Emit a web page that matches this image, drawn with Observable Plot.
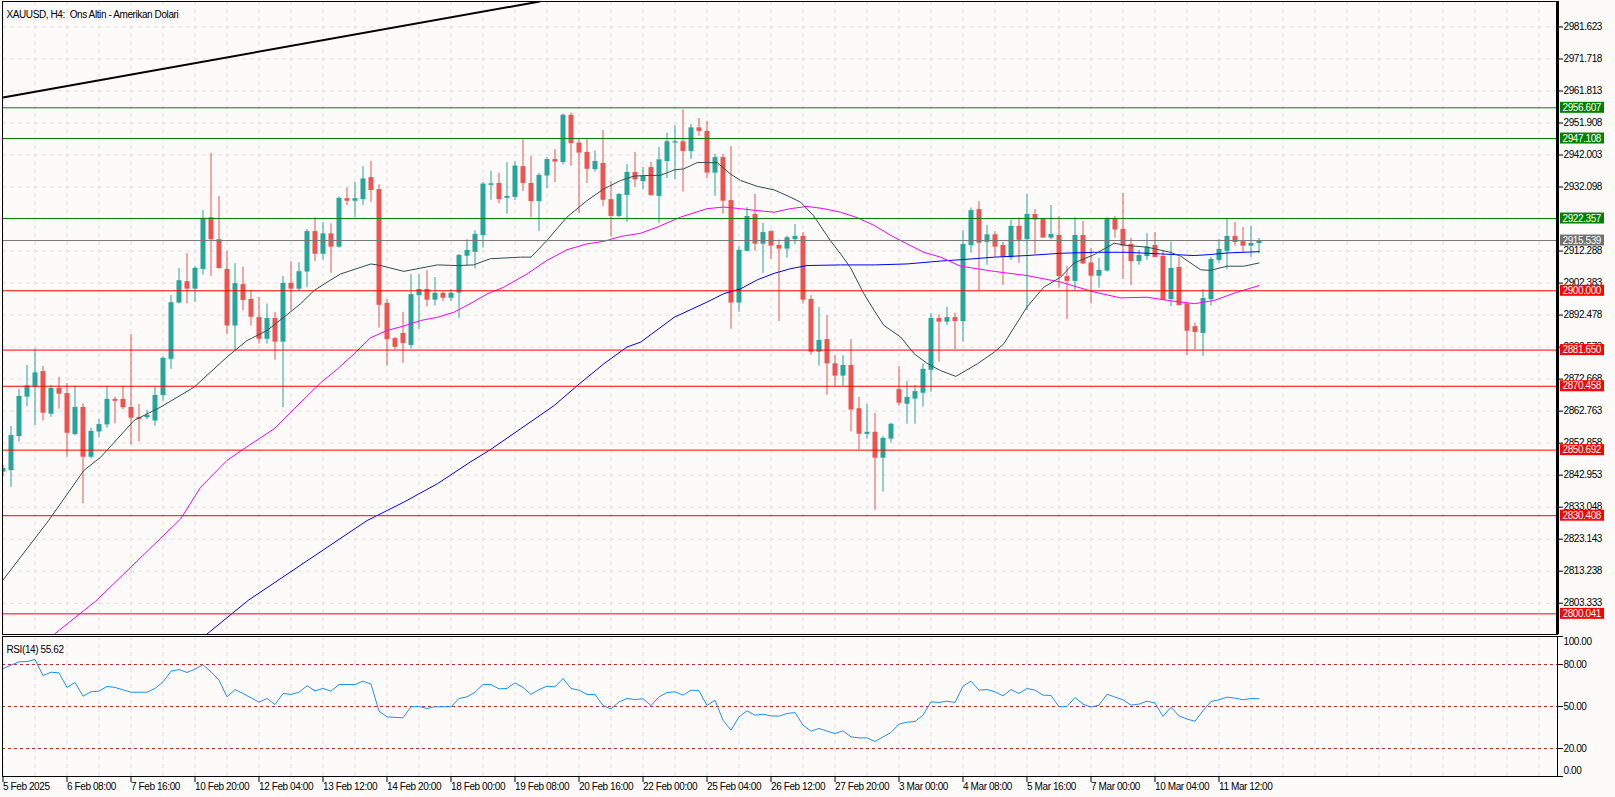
<!DOCTYPE html>
<html><head><meta charset="utf-8">
<script src="https://cdn.jsdelivr.net/npm/d3@7"></script>
<script src="https://cdn.jsdelivr.net/npm/@observablehq/plot@0.6"></script>
<style>
html,body{margin:0;padding:0;background:#fdfafa;}
#chart{position:relative;width:1615px;height:797px;background:#fdfafa;overflow:hidden;}
#chart svg{display:block;}
</style></head><body><div id="chart"></div>
<script>
// ---------- DATA ----------
const chartTitle = "XAUUSD, H4:  Ons Altin - Amerikan Dolari";
const rsiTitle = "RSI(14) 55.62";

const open = [2843.9,2844.4,2854.9,2867.1,2870.2,2875.0,2861.8,2869.8,2868.2,2855.5,2863.9,2848.5,2856.3,2858.5,2866.4,2866.4,2863.9,2860.8,2860.7,2859.7,
2867.6,2878.8,2896.2,2902.8,2900.5,2906.6,2922.6,2915.8,2906.6,2889.1,2901.9,2897.3,2891.7,2885.0,2891.4,2884.1,2902.3,2900.5,2905.8,2918.3,
2911.3,2917.6,2913.5,2928.5,2927.7,2928.2,2935.0,2931.3,2896.1,2885.2,2886.8,2883.1,2898.5,2900.4,2897.1,2899.2,2897.7,2899.3,2910.7,2911.9,
2917.1,2932.6,2933.2,2928.6,2928.9,2938.4,2933.2,2927.6,2935.5,2940.6,2939.7,2954.3,2945.7,2942.8,2937.5,2939.4,2928.2,2923.0,2929.5,2936.6,
2933.8,2938.1,2929.2,2940.0,2945.7,2946.1,2943.1,2950.4,2949.3,2936.4,2941.2,2927.9,2896.2,2912.2,2923.6,2914.4,2918.3,2914.0,2912.9,2915.8,
2916.8,2897.3,2881.0,2884.9,2877.4,2873.6,2876.9,2863.5,2855.6,2856.2,2848.2,2854.1,2869.4,2864.9,2866.5,2868.3,2875.4,2891.4,2890.3,2891.7,
2890.5,2914.0,2925.1,2915.0,2917.3,2914.0,2910.2,2919.9,2915.8,2923.6,2922.1,2916.3,2917.1,2904.4,2902.9,2917.1,2908.6,2904.5,2906.1,2922.1,
2919.0,2914.3,2909.0,2910.6,2914.0,2910.6,2897.3,2907.2,2895.9,2888.9,2886.8,2897.3,2909.4,2912.2,2916.8,2915.2,2913.8,2914.6];
const high = [2846.0,2858.0,2869.4,2876.9,2882.0,2876.6,2870.7,2873.2,2871.3,2870.5,2865.0,2857.5,2860.2,2870.5,2867.1,2870.5,2886.4,2864.8,2863.0,2870.2,
2879.5,2898.5,2906.9,2911.5,2907.5,2924.8,2942.5,2929.2,2912.2,2908.4,2907.3,2900.2,2897.9,2895.9,2893.3,2904.4,2909.0,2908.7,2919.0,2922.6,
2921.1,2920.7,2929.0,2931.8,2933.6,2938.4,2940.0,2932.8,2897.3,2885.6,2893.3,2905.0,2905.0,2906.2,2904.1,2899.8,2900.4,2911.2,2915.8,2918.6,
2933.5,2937.0,2936.4,2939.6,2939.9,2946.9,2941.5,2936.3,2941.2,2943.7,2954.7,2955.0,2946.9,2946.9,2943.2,2949.6,2933.8,2930.1,2939.0,2942.8,
2938.2,2939.8,2944.4,2948.8,2951.1,2956.0,2951.4,2953.3,2952.3,2942.2,2942.2,2944.6,2913.7,2925.7,2929.8,2920.8,2918.6,2915.7,2916.9,2920.5,
2918.0,2898.5,2894.8,2892.3,2879.9,2879.9,2884.9,2867.0,2864.8,2862.1,2854.9,2859.0,2876.5,2871.9,2870.7,2877.4,2892.9,2892.5,2894.9,2893.1,
2918.6,2925.6,2927.6,2920.2,2918.3,2915.0,2921.7,2922.6,2929.8,2925.1,2922.1,2926.4,2923.0,2907.6,2922.6,2921.5,2913.1,2910.0,2922.6,2923.0,
2930.1,2916.3,2912.5,2917.7,2918.0,2912.5,2915.0,2910.3,2896.4,2890.0,2900.4,2910.4,2915.9,2922.1,2921.1,2919.6,2919.9,2916.2];
const low = [2842.5,2839.2,2853.2,2864.2,2858.3,2859.7,2860.9,2863.4,2848.5,2855.2,2834.1,2848.0,2854.5,2857.5,2858.8,2863.2,2852.3,2853.2,2860.1,2858.1,
2865.8,2875.7,2895.9,2895.9,2896.4,2904.8,2904.5,2906.6,2886.4,2881.6,2893.8,2889.1,2883.5,2883.5,2878.5,2863.8,2893.7,2899.8,2901.0,2909.0,
2909.5,2905.4,2913.2,2926.4,2922.6,2926.4,2927.4,2888.4,2876.7,2881.7,2877.5,2882.0,2888.0,2895.0,2895.3,2896.7,2896.7,2891.5,2907.6,2906.7,
2913.2,2928.0,2926.9,2923.7,2927.9,2930.7,2922.6,2918.4,2931.6,2933.5,2938.9,2938.5,2923.9,2933.2,2936.7,2926.1,2916.6,2922.6,2921.2,2932.0,
2931.2,2929.2,2920.9,2934.7,2934.4,2930.5,2940.6,2947.8,2934.8,2929.2,2923.7,2888.1,2893.3,2912.2,2912.3,2905.4,2909.7,2890.5,2910.1,2914.3,
2895.9,2880.1,2876.7,2867.7,2870.5,2870.5,2856.3,2850.8,2854.1,2832.1,2837.7,2852.9,2864.3,2858.7,2858.7,2864.0,2868.6,2877.9,2889.3,2881.8,
2884.1,2911.6,2900.0,2907.9,2910.4,2901.7,2909.4,2908.5,2893.9,2911.2,2916.3,2915.8,2900.8,2891.1,2900.1,2908.1,2895.9,2900.8,2905.8,2916.3,
2903.5,2901.6,2907.9,2909.4,2910.3,2897.0,2895.1,2895.4,2880.0,2881.7,2879.7,2895.3,2908.4,2906.6,2913.8,2911.8,2910.3,2911.5];
const close = [2845.0,2855.2,2867.3,2870.6,2874.6,2862.1,2869.8,2868.0,2855.9,2863.9,2848.5,2856.5,2858.6,2866.4,2865.8,2863.8,2860.6,2860.2,2861.4,2867.6,
2879.1,2896.3,2903.1,2900.5,2906.9,2922.1,2915.8,2906.9,2889.1,2902.2,2897.0,2891.8,2885.0,2891.4,2884.1,2902.3,2900.5,2905.9,2918.3,2911.3,
2917.6,2913.5,2928.6,2927.7,2928.5,2934.6,2931.0,2895.5,2884.9,2882.5,2883.7,2898.8,2900.4,2897.1,2899.2,2897.7,2899.2,2910.9,2912.5,2917.4,
2933.0,2933.1,2928.2,2929.2,2938.6,2933.2,2927.6,2935.7,2940.6,2939.8,2954.3,2945.5,2942.6,2937.6,2940.0,2928.0,2923.0,2929.8,2936.6,2934.3,
2935.5,2929.5,2940.5,2946.1,2946.1,2943.1,2950.4,2949.3,2936.4,2941.2,2927.7,2896.2,2912.5,2923.0,2914.4,2918.0,2913.8,2912.9,2916.4,2916.8,
2897.1,2881.0,2884.6,2877.4,2873.6,2876.9,2863.1,2855.6,2856.2,2848.2,2854.3,2858.7,2865.2,2867.0,2868.8,2875.7,2891.4,2890.3,2891.7,2890.5,
2914.3,2924.8,2914.7,2917.3,2913.5,2910.4,2919.9,2915.6,2923.6,2921.9,2916.3,2917.4,2904.4,2902.9,2917.1,2908.3,2904.5,2906.3,2922.1,2918.8,
2913.8,2909.0,2910.9,2913.5,2910.3,2897.0,2906.9,2895.4,2887.5,2887.1,2897.6,2909.7,2912.8,2916.8,2914.9,2913.8,2914.6,2915.5];

// moving averages: [bar index, price]
const maDark = [[0,2810.5],[5.7,2828.9],[10.1,2844.4],[12.2,2848.5],[16.4,2859.9],[19.7,2864.0],[23.9,2870.2],[28,2879.5],[30.5,2884.6],[33,2887.7],[35.1,2891.8],[37.2,2896.0],[38.9,2900.1],[41,2903.4],[42.2,2905.2],[46,2908.3],[47.2,2907.8],[50.1,2906.0],[52.2,2907.0],[54.3,2908.0],[56.8,2907.8],[58.8,2908.0],[60.9,2909.9],[64.7,2910.4],[66,2910.4],[68,2915.6],[70.5,2922.8],[73,2927.9],[75.1,2931.5],[77.2,2934.1],[78.9,2935.5],[81,2935.7],[82.2,2935.7],[83.9,2937.4],[85.1,2937.7],[86.8,2939.7],[89.3,2939.6],[90.9,2936.2],[92.2,2934.1],[94.3,2932.3],[96.4,2931.2],[98.4,2929.0],[99.7,2927.4],[101.3,2923.3],[103.4,2915.6],[104.7,2911.4],[105.9,2907.3],[107.6,2899.1],[108.9,2893.9],[110.1,2889.3],[112.2,2885.7],[113.9,2880.5],[115.6,2877.4],[117.2,2875.3],[119.1,2873.5],[121.8,2877.4],[123.9,2881.0],[125.1,2883.6],[126.4,2888.7],[128,2895.0],[130.1,2901.1],[132.2,2904.2],[133.9,2908.6],[136.4,2911.2],[138.9,2914.7],[140.5,2914.0],[143,2913.5],[145.9,2911.9],[147.2,2910.7],[149.7,2906.5],[150.9,2906.3],[153,2907.6],[155.1,2907.6],[157,2908.6]];
const maMagenta = [[6.5,2793.9],[11.6,2804.0],[22.2,2829.4],[24.7,2839.2],[28,2847.5],[30.1,2851.1],[33.9,2857.3],[36.4,2863.5],[39.7,2871.5],[41.8,2875.8],[43.9,2880.5],[45.9,2885.4],[48,2887.7],[50.1,2889.1],[52.2,2890.8],[54.3,2891.8],[56.4,2893.4],[58.4,2896.0],[60.5,2899.0],[62.6,2901.1],[65.5,2905.2],[68,2909.4],[70.5,2912.7],[73,2914.5],[75.1,2915.3],[77.2,2916.8],[79.7,2917.8],[81.8,2919.7],[84.7,2922.8],[88,2925.4],[90.1,2925.9],[92.2,2925.4],[94.3,2924.8],[96.4,2924.3],[98.4,2925.4],[100.5,2926.1],[102.6,2925.4],[104.7,2924.3],[106.8,2922.6],[108.9,2920.2],[111,2917.1],[113,2914.5],[115.1,2911.9],[117.2,2910.4],[119.7,2907.6],[123.9,2906.0],[128,2904.7],[132.2,2902.7],[136.4,2899.6],[139.7,2897.8],[143,2898.0],[145.6,2897.0],[148.9,2896.0],[151.4,2897.0],[154.3,2899.6],[157,2901.6]];
const maBlue = [[25.4,2793.6],[30.7,2804.3],[45.5,2828.9],[50.1,2834.6],[54.3,2840.3],[58.4,2847.0],[60.9,2850.8],[64.7,2857.3],[68.9,2864.5],[71.8,2870.7],[75.1,2877.4],[78,2882.6],[79.7,2884.1],[83.9,2891.8],[88,2896.5],[90.1,2899.1],[92.2,2900.6],[94.3,2903.4],[96.4,2905.4],[98.4,2906.8],[100.5,2907.8],[104.7,2908.0],[108.9,2908.0],[113,2908.3],[117.2,2909.2],[119.7,2909.6],[123.9,2910.4],[128,2910.9],[132.2,2911.6],[136.4,2911.9],[140.5,2911.9],[144.7,2911.4],[148.9,2910.9],[150.9,2911.2],[153,2911.7],[157,2912.1]];
const trendLine = [[0,2959.8],[67.1,2989.5]];

const greenLevels = [2956.607, 2947.108, 2922.357];
const bidLevels = [2915.539];
const redLevels = [2900.000, 2881.650, 2870.458, 2850.692, 2830.408, 2800.041];

const gridTicks = [2981.623,2971.718,2961.813,2951.908,2942.003,2932.098,2922.193,2912.288,2902.383,2892.478,2882.573,2872.668,2862.763,2852.858,2842.953,2833.048,2823.143,2813.238,2803.333];
const priceTicks = [2981.623,2971.718,2961.813,2951.908,2942.003,2932.098,2912.288,2902.383,2892.478,2882.573,2872.668,2862.763,2852.858,2842.953,2833.048,2823.143,2813.238,2803.333];

const rsiIdx = [0,2,3,4,5,6,7,8,9,10,11,12,13,14,16,18,19,20,21,22,23,24,25,26,27,28,29,30,32,33,34,35,36,37,38,39,40,41,42,44,45,46,47,48,50,51,52,53,54,56,57,58,59,60,61,62,63,64,65,66,67,68,69,70,71,72,73,74,75,76,77,78,79,80,81,82,83,84,85,86,87,88,89,90,91,92,93,94,95,96,97,98,99,100,101,102,103,104,105,106,107,108,109,110,111,112,113,114,115,116,117,118,119,120,121,122,123,124,125,126,127,128,129,130,131,132,133,134,135,136,137,138,139,140,141,142,143,144,145,146,147,148,149,150,151,152,153,154,155,156,157];
const rsiVal = [77.1,81.9,82.1,83.6,72.1,74.5,74.0,63.6,67.1,57.4,60.5,61.0,64.3,63.6,60.2,60.2,62.9,67.6,75.2,76.4,74.3,76.7,79.8,74.8,68.8,56.9,62.1,59.3,53.1,55.7,51.4,59.3,58.6,60.2,64.8,61.2,62.9,61.0,65.7,65.7,68.1,66.0,46.7,42.6,41.9,49.8,50.0,48.6,49.8,49.8,55.7,56.9,60.2,65.7,65.7,62.6,62.9,66.9,63.6,58.6,62.1,64.5,64.0,70.0,62.9,61.7,58.6,58.6,50.7,48.3,53.3,55.7,55.0,55.5,50.7,56.9,60.0,60.5,58.1,61.7,61.2,50.7,54.5,40.2,33.1,42.6,46.9,43.8,44.5,43.3,43.1,45.0,45.7,36.7,32.4,34.3,32.4,30.7,32.6,28.3,27.6,27.6,25.0,28.3,31.4,37.4,38.8,39.3,43.8,53.3,52.9,53.8,52.9,64.5,68.1,61.7,62.1,60.5,57.6,62.1,59.3,62.9,61.7,58.1,57.9,49.8,50.0,56.4,51.7,49.5,51.0,58.8,56.7,54.8,51.0,51.7,53.8,52.4,42.9,49.5,43.3,41.0,39.5,46.9,53.6,54.8,56.7,56.0,54.8,55.7,55.6];
const rsiLevels = [20, 50, 80];
const rsiTicks = [0, 20, 50, 80, 100];

const timeIdx = [0,8,16,24,32,40,48,56,64,72,80,88,96,104,112,120,128,136,144,152];
const timeLabels = ["5 Feb 2025","6 Feb 08:00","7 Feb 16:00","10 Feb 20:00","12 Feb 04:00","13 Feb 12:00","14 Feb 20:00","18 Feb 00:00","19 Feb 08:00","20 Feb 16:00","22 Feb 00:00","25 Feb 04:00","26 Feb 12:00","27 Feb 20:00","3 Mar 00:00","4 Mar 08:00","5 Mar 16:00","7 Mar 00:00","10 Mar 04:00","11 Mar 12:00"];

// ---------- DRAWING ----------
const W = 1615, priceH = 635, rsiH = 162;
const xDomain = [-0.0625, 194.3125];
const UP = "#26a69a", DOWN = "#ef5350", GRID = "#e4dfdf";
const style = {fontFamily: "'Liberation Sans', Arial, sans-serif", fontSize: "10px", background: "#fdfafa", color: "black", letterSpacing: "-0.4px", overflow: "visible"};

const candles = open.map((o, i) => ({i, o, h: high[i], l: low[i], c: close[i]}));
const upC = candles.filter(d => d.c >= d.o);
const dnC = candles.filter(d => d.c < d.o);
const pts = arr => arr.map(([i, p]) => ({i, p}));
const gridIdx = d3.range(0, 195, 4);

function priceTags(values, fill) {
  return (index, scales, channels, dim) => {
    const g = d3.create("svg:g");
    const x0 = dim.width - dim.marginRight + 3;
    for (const v of values) {
      const y = scales.y(v);
      g.append("rect").attr("x", x0).attr("y", y - 5.5).attr("width", 44).attr("height", 11).attr("fill", fill);
      g.append("text").attr("x", x0 + 2.5).attr("y", y).attr("dy", "0.35em")
        .attr("text-anchor", "start").attr("fill", "white").text(v.toFixed(3));
    }
    return g.node();
  };
}

const pricePlot = Plot.plot({
  width: W, height: priceH,
  marginLeft: 2, marginRight: 58, marginTop: 1, marginBottom: 1,
  x: {type: "linear", domain: xDomain, axis: null, label: null},
  y: {domain: [2793.65, 2989.5], axis: null, label: null},
  style,
  marks: [
    Plot.ruleX(gridIdx, {stroke: GRID, strokeDasharray: "4,4"}),
    Plot.ruleY(gridTicks, {stroke: GRID, strokeDasharray: "4,4"}),
    Plot.ruleX(upC, {x: "i", y1: "l", y2: "h", stroke: UP, clip: true}),
    Plot.ruleX(dnC, {x: "i", y1: "l", y2: "h", stroke: DOWN, clip: true}),
    Plot.ruleX(upC, {x: "i", y1: "o", y2: "c", stroke: UP, strokeWidth: 5, clip: true}),
    Plot.ruleX(dnC, {x: "i", y1: "o", y2: "c", stroke: DOWN, strokeWidth: 5, clip: true}),
    Plot.line(pts(maBlue), {x: "i", y: "p", stroke: "#0000ff", strokeWidth: 1, clip: true}),
    Plot.line(pts(maMagenta), {x: "i", y: "p", stroke: "#ff00ff", strokeWidth: 1, clip: true}),
    Plot.line(pts(maDark), {x: "i", y: "p", stroke: "#2f4f4f", strokeWidth: 1, clip: true}),
    Plot.ruleY(greenLevels, {stroke: "#008000"}),
    Plot.ruleY(bidLevels, {stroke: "#777777"}),
    Plot.ruleY(redLevels, {stroke: "#ff0000"}),
    Plot.line(pts(trendLine), {x: "i", y: "p", stroke: "black", strokeWidth: 2, clip: true}),
    Plot.frame({stroke: "black"}),
    Plot.ruleX([xDomain[1]], {stroke: "black", strokeWidth: 3}),
    Plot.axisY(priceTicks, {anchor: "right", tickSize: 5, tickPadding: 1, label: null, tickFormat: d => d.toFixed(3)}),
    priceTags(greenLevels, "#008000"),
    priceTags(bidLevels, "#707070"),
    priceTags(redLevels, "#ff0000"),
    Plot.text([chartTitle], {frameAnchor: "top-left", dx: 4, dy: 9, text: d => d, fill: "black"})
  ]
});

const rsiData = rsiIdx.map((i, k) => ({i, v: rsiVal[k]}));
const rsiPlot = Plot.plot({
  width: W, height: rsiH,
  marginLeft: 2, marginRight: 58, marginTop: 1, marginBottom: 21,
  x: {type: "linear", domain: xDomain, axis: null, label: null},
  y: {domain: [0, 100], axis: null, label: null},
  style,
  marks: [
    Plot.ruleX(gridIdx, {stroke: GRID, strokeDasharray: "4,4"}),
    Plot.ruleY(rsiLevels, {stroke: "#c0282d", strokeDasharray: "3,3"}),
    Plot.line(rsiData, {x: "i", y: "v", stroke: "#1e90ff", strokeWidth: 1, clip: true}),
    Plot.frame({stroke: "black"}),
    Plot.axisY(rsiTicks, {anchor: "right", tickSize: 5, tickPadding: 1, label: null, tickFormat: d => (d === 0 || d === 100) ? "" : d.toFixed(2)}),
    Plot.text([100], {y: d => d, frameAnchor: "right", dx: 6, dy: 5.4, textAnchor: "start", text: d => d.toFixed(2), fill: "black"}),
    Plot.text([0], {y: d => d, frameAnchor: "right", dx: 6, dy: -5.6, textAnchor: "start", text: d => d.toFixed(2), fill: "black"}),
    Plot.text([rsiTitle], {frameAnchor: "top-left", dx: 4, dy: 9.7, text: d => d, fill: "black"}),
    Plot.axisX(timeIdx, {anchor: "bottom", tickSize: 6, tickPadding: 0, label: null, textAnchor: "start", tickFormat: i => timeLabels[timeIdx.indexOf(i)]})
  ]
});

const root = document.getElementById("chart");
root.appendChild(pricePlot);
root.appendChild(rsiPlot);
</script></body></html>
